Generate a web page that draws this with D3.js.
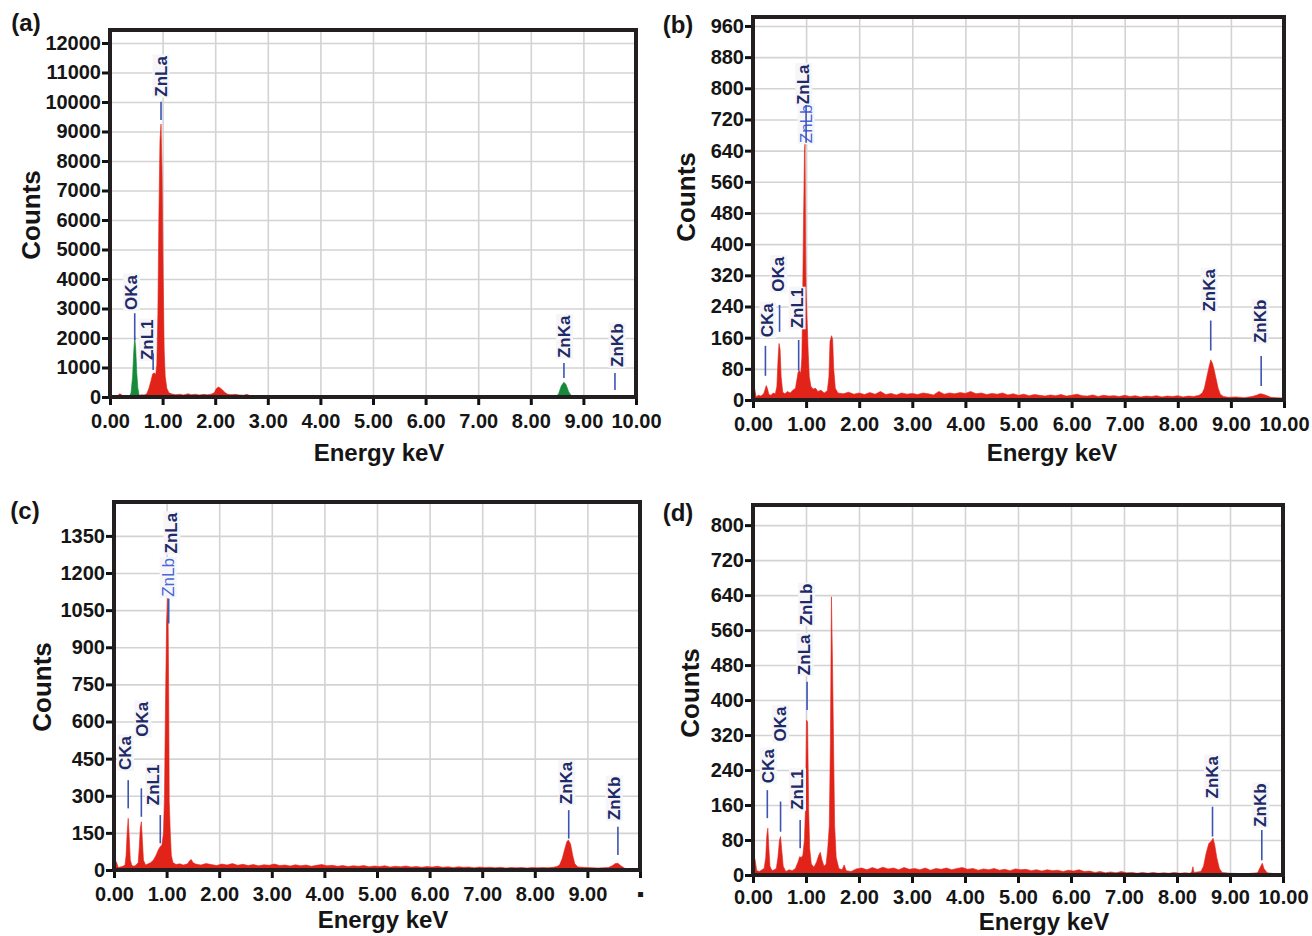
<!DOCTYPE html>
<html>
<head>
<meta charset="utf-8">
<script src="https://cdn.jsdelivr.net/npm/d3@7"></script>
<style>
  body { margin: 0; background: #fff; }
  svg text { font-family: "Liberation Sans", Arial, sans-serif; font-weight: bold; fill: #151515; }
</style>
</head>
<body>
<svg id="chart" width="1312" height="936"></svg>
<script>
// ---- data: [energy keV, counts] ----
var specA = [[0.00,0],[0.10,10],[0.15,40],[0.18,110],[0.21,90],[0.25,30],[0.32,25],[0.38,35],[0.55,60],[0.60,75],[0.65,70],[0.70,110],[0.74,300],[0.78,560],[0.81,780],[0.84,820],[0.87,760],[0.89,1100],[0.91,2800],[0.93,6200],[0.95,8700],[0.97,9250],[0.99,7600],[1.01,4200],[1.03,1600],[1.05,700],[1.08,300],[1.12,140],[1.18,100],[1.25,80],[1.32,95],[1.40,70],[1.48,110],[1.55,80],[1.62,95],[1.70,70],[1.78,90],[1.85,75],[1.92,95],[1.98,140],[2.02,280],[2.06,340],[2.10,300],[2.14,240],[2.18,160],[2.23,100],[2.30,80],[2.38,90],[2.46,70],[2.54,60],[2.60,90],[2.66,50],[2.75,40],[2.90,30],[3.10,25],[3.40,20],[3.80,15],[4.50,12],[5.50,10],[6.50,8],[7.50,8],[8.30,10],[9.00,8],[9.50,6],[10.00,0]];
var greenA = [[0.37,0],[0.40,150],[0.43,700],[0.45,1500],[0.47,2050],[0.49,1600],[0.51,800],[0.53,300],[0.56,0],[8.48,0],[8.53,120],[8.58,380],[8.63,500],[8.67,420],[8.72,180],[8.77,40],[8.81,0]];

var specB = [[0.00,0],[0.01,35],[0.03,30],[0.06,8],[0.10,12],[0.15,10],[0.20,16],[0.23,28],[0.25,37],[0.27,30],[0.30,14],[0.34,12],[0.38,18],[0.42,16],[0.45,35],[0.47,100],[0.49,145],[0.51,130],[0.53,60],[0.56,20],[0.60,16],[0.65,22],[0.70,18],[0.75,25],[0.80,30],[0.83,55],[0.85,72],[0.88,75],[0.90,68],[0.92,110],[0.93,200],[0.95,440],[0.97,640],[0.98,660],[0.99,400],[1.00,280],[1.02,200],[1.04,120],[1.06,60],[1.09,35],[1.13,28],[1.18,30],[1.22,22],[1.28,25],[1.34,18],[1.40,24],[1.43,60],[1.45,150],[1.48,165],[1.50,155],[1.52,80],[1.55,30],[1.60,18],[1.70,16],[1.80,20],[1.90,15],[2.00,18],[2.10,14],[2.20,19],[2.30,15],[2.40,22],[2.50,14],[2.60,17],[2.70,13],[2.80,18],[2.90,15],[3.00,17],[3.10,14],[3.20,18],[3.30,16],[3.40,13],[3.50,22],[3.60,15],[3.70,18],[3.80,16],[3.90,19],[4.00,17],[4.10,22],[4.20,16],[4.30,18],[4.40,14],[4.50,17],[4.60,15],[4.70,18],[4.80,13],[4.90,16],[5.00,12],[5.10,15],[5.20,11],[5.30,14],[5.40,12],[5.50,10],[5.60,13],[5.70,11],[5.80,14],[5.90,10],[6.00,12],[6.10,15],[6.20,11],[6.30,10],[6.40,13],[6.50,9],[6.60,12],[6.70,10],[6.80,11],[6.90,9],[7.00,12],[7.10,9],[7.20,11],[7.30,8],[7.40,10],[7.50,9],[7.60,11],[7.70,8],[7.80,10],[7.90,9],[8.00,11],[8.10,8],[8.20,10],[8.30,9],[8.40,12],[8.46,18],[8.50,30],[8.54,55],[8.58,80],[8.62,103],[8.65,95],[8.68,80],[8.72,55],[8.76,30],[8.80,15],[8.86,9],[8.95,7],[9.10,8],[9.25,6],[9.40,9],[9.48,12],[9.55,16],[9.60,15],[9.66,12],[9.75,7],[9.85,6],[10.00,5]];

var specC = [[0.00,0],[0.02,40],[0.05,30],[0.08,10],[0.12,12],[0.17,15],[0.21,20],[0.23,60],[0.25,150],[0.27,209],[0.29,130],[0.31,40],[0.34,18],[0.38,15],[0.42,20],[0.46,30],[0.48,90],[0.50,170],[0.52,195],[0.54,120],[0.56,40],[0.60,20],[0.65,25],[0.70,30],[0.75,40],[0.80,60],[0.84,80],[0.88,95],[0.91,100],[0.94,150],[0.96,300],[0.98,690],[1.00,1000],[1.02,1097],[1.03,980],[1.04,700],[1.05,280],[1.07,150],[1.09,60],[1.12,30],[1.18,22],[1.25,25],[1.32,20],[1.40,25],[1.44,38],[1.47,42],[1.50,30],[1.55,24],[1.65,20],[1.75,26],[1.85,22],[1.95,18],[2.05,24],[2.15,20],[2.25,26],[2.35,19],[2.45,23],[2.55,18],[2.65,22],[2.75,17],[2.85,21],[2.95,19],[3.05,24],[3.15,18],[3.25,20],[3.35,16],[3.45,21],[3.55,17],[3.65,20],[3.75,15],[3.85,19],[3.95,22],[4.05,17],[4.15,19],[4.25,15],[4.35,18],[4.45,14],[4.55,17],[4.65,15],[4.75,18],[4.85,13],[4.95,16],[5.05,14],[5.15,17],[5.25,12],[5.35,15],[5.45,13],[5.55,16],[5.65,12],[5.75,14],[5.85,11],[5.95,14],[6.05,12],[6.15,15],[6.25,11],[6.35,13],[6.45,10],[6.55,13],[6.65,11],[6.75,12],[6.85,9],[6.95,12],[7.05,10],[7.15,11],[7.25,9],[7.35,11],[7.45,8],[7.55,10],[7.65,9],[7.75,10],[7.85,8],[7.95,10],[8.05,9],[8.15,10],[8.25,9],[8.35,11],[8.42,14],[8.47,20],[8.52,45],[8.57,85],[8.61,115],[8.64,121],[8.68,105],[8.72,60],[8.76,25],[8.82,12],[9.00,10],[9.20,8],[9.40,10],[9.48,18],[9.53,26],[9.58,27],[9.63,18],[9.70,8],[9.76,4],[9.78,0]];

var specD = [[0.00,0],[0.02,42],[0.04,35],[0.07,10],[0.12,8],[0.17,12],[0.21,15],[0.24,40],[0.26,90],[0.28,107],[0.30,60],[0.32,20],[0.36,10],[0.40,12],[0.44,15],[0.47,40],[0.50,80],[0.52,88],[0.54,60],[0.57,20],[0.62,8],[0.68,12],[0.74,10],[0.80,15],[0.85,30],[0.88,42],[0.91,40],[0.94,45],[0.97,80],[0.99,152],[1.01,354],[1.03,350],[1.05,150],[1.07,60],[1.10,25],[1.15,18],[1.20,30],[1.24,45],[1.27,52],[1.30,35],[1.34,20],[1.38,25],[1.41,60],[1.44,114],[1.46,300],[1.48,636],[1.50,484],[1.52,300],[1.54,114],[1.57,40],[1.62,15],[1.68,12],[1.72,23],[1.76,10],[1.85,8],[1.95,14],[2.05,16],[2.15,12],[2.25,17],[2.35,13],[2.45,18],[2.55,14],[2.65,16],[2.75,12],[2.85,17],[2.95,13],[3.05,15],[3.15,12],[3.25,16],[3.35,11],[3.45,15],[3.55,13],[3.65,16],[3.75,12],[3.85,15],[3.95,17],[4.05,13],[4.15,15],[4.25,11],[4.35,14],[4.45,12],[4.55,15],[4.65,11],[4.75,13],[4.85,10],[4.95,14],[5.05,12],[5.15,13],[5.25,10],[5.35,12],[5.45,9],[5.55,12],[5.65,10],[5.75,11],[5.85,8],[5.95,11],[6.05,9],[6.15,12],[6.25,8],[6.35,9],[6.45,6],[6.55,8],[6.65,5],[6.75,7],[6.85,5],[6.95,8],[7.05,5],[7.15,6],[7.25,4],[7.35,6],[7.45,4],[7.55,6],[7.65,4],[7.75,5],[7.85,4],[7.95,6],[8.05,4],[8.15,5],[8.25,4],[8.28,8],[8.30,19],[8.32,6],[8.45,8],[8.50,20],[8.55,50],[8.60,72],[8.65,78],[8.68,84],[8.71,70],[8.75,40],[8.80,15],[8.85,6],[9.00,4],[9.30,3],[9.52,5],[9.58,20],[9.61,27],[9.64,15],[9.70,5],[9.85,3],[10.00,2]];

// peak labels: [name, text keV, text bottom (counts), line keV, line low, line high, style]
var labelsA = [["ZnLa",0.97,10180,0.97,9390,10010,"n"],["OKa",0.41,2950,0.47,1930,2840,"n"],["ZnL1",0.71,1250,0.82,915,1480,"n"],["ZnKa",8.64,1320,8.63,640,1150,"n"],["ZnKb",9.64,1020,9.60,240,810,"n"]];
var labelsB = [["CKa",0.28,161,0.234,62,139,"n"],["OKa",0.485,278,0.50,175,244,"n"],["ZnL1",0.83,184,0.86,75,154,"n"],["ZnLa",0.956,757,1.00,660,757,"n"],["ZnLb",1.00,659,null,0,0,"light"],["ZnKa",8.59,227,8.62,127,204,"n"],["ZnKb",9.55,146,9.57,36,113,"n"]];
var labelsC = [["CKa",0.22,404,0.27,249,363,"n"],["OKa",0.55,538,0.52,215,330,"n"],["ZnL1",0.755,262,0.88,108,222,"n"],["ZnLa",1.10,1279,null,0,0,"n"],["ZnLb",1.03,1104,1.04,996,1097,"light"],["ZnKa",8.61,266,8.645,127,242,"n"],["ZnKb",9.51,202,9.58,61,175,"n"]];
var labelsD = [["CKa",0.29,210,0.27,130,194,"n"],["OKa",0.52,305,0.52,99,168,"n"],["ZnL1",0.84,149,0.89,61,126,"n"],["ZnLa",0.98,457,1.02,377,442,"n"],["ZnLb",1.01,571,null,0,0,"n"],["ZnKa",8.67,175,8.67,88,156,"n"],["ZnKb",9.58,110,9.60,34,103,"n"]];

var ticksA = d3.range(0, 12001, 1000),
    ticksB = d3.range(0, 961, 80),
    ticksC = d3.range(0, 1351, 150),
    ticksD = d3.range(0, 801, 80),
    xTicks = d3.range(0, 11, 1);

var svg = d3.select("#chart"),
    red = "#e2231a",
    green = "#16893a",
    navy = "#1e2a68",
    lineBlue = "#3d54b3";

var panels = [
    {tag: "(a)", spec: specA, green: greenA, labels: labelsA, ticks: ticksA, yMax: 12440, xPad: 9,
     left: 110, right: 636, top: 30, bottom: 397, letter: [26, 22], counts: [31, 215], energy: [379, 461]},
    {tag: "(b)", spec: specB, labels: labelsB, ticks: ticksB, yMax: 983, xPad: 9,
     left: 753, right: 1284, top: 17, bottom: 400, letter: [678, 24], counts: [686, 197], energy: [1052, 461]},
    {tag: "(c)", spec: specC, labels: labelsC, ticks: ticksC, yMax: 1487, xPad: 9, lastTick: "\u25AA",
     left: 114, right: 640, top: 502, bottom: 870, letter: [25, 510], counts: [42, 687], energy: [383, 928]},
    {tag: "(d)", spec: specD, labels: labelsD, ticks: ticksD, yMax: 846, xPad: 7,
     left: 753, right: 1283, top: 505, bottom: 875, letter: [678, 512], counts: [690, 693], energy: [1044, 930]}
];

panels.forEach(function (p) {
    var g = svg.append("g"),
        x = d3.scaleLinear().domain([0, 10]).range([p.left, p.right]),
        y = d3.scaleLinear().domain([0, p.yMax]).range([p.bottom, p.top]);

    // grid
    g.append("g")
        .attr("class", "grid")
        .attr("transform", "translate(0," + p.top + ")")
        .call(d3.axisBottom(x).tickValues(d3.range(1, 10)).tickSize(p.bottom - p.top).tickFormat(""));
    g.append("g")
        .attr("class", "grid")
        .attr("transform", "translate(" + p.left + ",0)")
        .call(d3.axisRight(y).tickValues(p.ticks.filter(function (v) { return v > 0; })).tickSize(p.right - p.left).tickFormat(""));
    g.selectAll(".grid .domain").remove();
    g.selectAll(".grid line").attr("stroke", "#d3d3d3").attr("stroke-width", 1.6);

    var area = d3.area()
        .x(function (d) { return x(d[0]); })
        .y0(y(0))
        .y1(function (d) { return y(d[1]); });

    g.append("path").datum(p.spec).attr("d", area).attr("fill", red).attr("stroke", red).attr("stroke-width", 0.6);
    if (p.green) {
        g.append("path").datum(p.green).attr("d", area).attr("fill", green).attr("stroke", green).attr("stroke-width", 0.6);
    }

    // frame
    g.append("rect")
        .attr("x", p.left).attr("y", p.top)
        .attr("width", p.right - p.left).attr("height", p.bottom - p.top)
        .attr("fill", "none").attr("stroke", "#231f20").attr("stroke-width", 4);

    // axes
    var yAxis = g.append("g")
        .attr("transform", "translate(" + (p.left - 2) + ",0)")
        .call(d3.axisLeft(y).tickValues(p.ticks).tickSize(6).tickPadding(1).tickFormat(d3.format("d")));
    var xAxis = g.append("g")
        .attr("transform", "translate(0," + (p.bottom + 2) + ")")
        .call(d3.axisBottom(x).tickValues(xTicks).tickSize(6).tickPadding(p.xPad)
            .tickFormat(function (d) { return (d === 10 && p.lastTick) ? p.lastTick : d.toFixed(2); }));
    [yAxis, xAxis].forEach(function (a) {
        a.select(".domain").remove();
        a.selectAll(".tick line").attr("stroke", "#111").attr("stroke-width", 3);
        a.selectAll(".tick text").attr("font-size", 20).attr("fill", "#151515");
    });

    // peak labels (texts on a pale box, marker lines drawn over them)
    p.labels.forEach(function (l) {
        var lg = g.append("g")
            .attr("transform", "translate(" + x(l[1]) + "," + y(l[2]) + ") rotate(-90)");
        var bg = lg.append("rect");
        var t = lg.append("text")
            .attr("dominant-baseline", "central")
            .attr("font-size", 17)
            .style("font-weight", l[6] === "light" ? "normal" : "bold")
            .style("fill", l[6] === "light" ? "#4866d8" : navy)
            .text(l[0]);
        var b = t.node().getBBox();
        bg.attr("x", b.x - 1).attr("y", b.y + 1).attr("width", b.width + 2).attr("height", b.height - 2)
            .attr("fill", "#f6f6f8");
    });
    p.labels.filter(function (l) { return l[3] !== null; }).forEach(function (l) {
        g.append("line")
            .attr("x1", x(l[3])).attr("x2", x(l[3]))
            .attr("y1", y(l[4])).attr("y2", y(l[5]))
            .attr("stroke", lineBlue).attr("stroke-width", 1.6);
    });

    // titles
    g.append("text")
        .attr("transform", "translate(" + p.counts[0] + "," + p.counts[1] + ") rotate(-90)")
        .attr("text-anchor", "middle").attr("dominant-baseline", "central")
        .attr("font-size", 26).text("Counts");
    g.append("text")
        .attr("x", p.energy[0]).attr("y", p.energy[1])
        .attr("text-anchor", "middle")
        .attr("font-size", 24).text("Energy keV");
    g.append("text")
        .attr("x", p.letter[0]).attr("y", p.letter[1])
        .attr("text-anchor", "middle").attr("dominant-baseline", "central")
        .attr("font-size", 24).text(p.tag);
});
</script>
</body>
</html>
